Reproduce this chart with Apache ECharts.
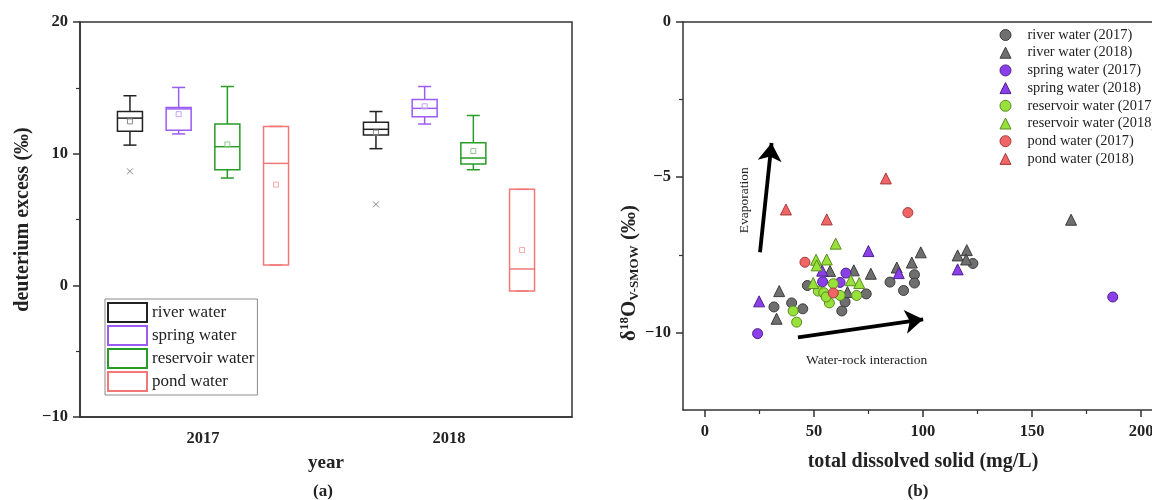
<!DOCTYPE html>
<html>
<head>
<meta charset="utf-8">
<script src="https://cdn.jsdelivr.net/npm/echarts@6/dist/echarts.min.js"></script>
<style>
  html, body { margin: 0; padding: 0; background: #fff; }
  #chart { width: 1152px; height: 500px; }
</style>
</head>
<body>
<div id="chart"></div>
<script>
// ---------- panel (a): deuterium excess box plots ----------
const years = ['2017', '2018'];
const waterTypes = ['river water', 'spring water', 'reservoir water', 'pond water'];
// [min, Q1, median, Q3, max] for 2017 and 2018
const riverBox = [[10.65, 11.7, 12.7, 13.2, 14.4], [10.38, 11.41, 11.85, 12.38, 13.2]];
const springBox = [[11.5, 11.77, 13.4, 13.5, 15.03], [12.25, 12.8, 13.44, 14.12, 15.1]];
const reservoirBox = [[8.15, 8.78, 10.53, 12.25, 15.1], [8.78, 9.21, 9.67, 10.83, 12.9]];
const pondBox = [[1.54, 1.54, 9.26, 12.07, 12.07], [-0.43, -0.43, 1.24, 7.29, 7.29]];
const riverMean = [12.45, 11.6];
const springMean = [13.0, 13.6];
const reservoirMean = [10.7, 10.2];
const pondMean = [7.65, 2.68];
const riverOutlier = [8.66, 6.15];
const springOutlier = [null, null];
const reservoirOutlier = [null, null];
const pondOutlier = [null, null];

// ---------- panel (b): δ18O versus TDS ----------
// [TDS (mg/L), δ18O (‰)]
const river2017 = [[47.0, -8.49], [74.0, -8.76], [64.3, -9.02], [62.8, -9.31], [31.7, -9.18],
  [39.8, -9.05], [44.9, -9.24], [84.9, -8.38], [91.1, -8.65], [96.1, -8.14], [96.1, -8.41],
  [122.9, -7.78]];
const river2018 = [[57.4, -8.02], [68.3, -8.0], [76.1, -8.11], [65.4, -8.7], [34.1, -8.67],
  [32.9, -9.56], [88.0, -7.91], [94.9, -7.75], [99.0, -7.42], [115.9, -7.52], [120.1, -7.35],
  [119.8, -7.65], [167.9, -6.37]];
const spring2017 = [[64.7, -8.09], [54.0, -8.37], [62.0, -8.39], [24.2, -10.04], [187.0, -8.86]];
const spring2018 = [[75.0, -7.38], [53.8, -8.01], [24.9, -9.0], [88.9, -8.09], [115.9, -7.97]];
const reservoir2017 = [[58.9, -8.43], [52.0, -8.67], [62.0, -8.81], [69.6, -8.81], [57.1, -9.05],
  [40.5, -9.31], [42.1, -9.67], [54.5, -8.72], [55.6, -8.86]];
const reservoir2018 = [[60.0, -7.14], [51.0, -7.66], [55.9, -7.65], [51.3, -7.84], [49.7, -8.41],
  [66.9, -8.32], [70.8, -8.41]];
const pond2017 = [[45.9, -7.74], [58.9, -8.73], [93.1, -6.14]];
const pond2018 = [[37.2, -6.04], [55.9, -6.36], [83.0, -5.04]];
const tdsTicks = [0, 50, 100, 150, 200];
const tdsMinorTicks = [25, 75, 125, 175];
const o18Ticks = [-10, -5, 0];
const o18MinorTicks = [-7.5, -2.5];
// annotation arrows (tail, tip), in data units
const evaporationArrow = [[25.3, -7.42], [30.6, -3.9]];
const waterRockArrow = [[42.7, -10.16], [100.1, -9.58]];
const evaporationLabelAt = [18.4, -5.74];
const waterRockLabelAt = [74.2, -10.9];

const SERIF = "'Liberation Serif', 'DejaVu Serif', serif";
const INK = '#222';
const minus = v => String(v).replace('-', '\u2212');

const boxColors = ['#222222', '#9b5cf4', '#279c27', '#f27878'];
const meanColors = ['#8a8a8a', '#c3a2f7', '#8fc88f', '#f5aaaa'];
const boxSets = [riverBox, springBox, reservoirBox, pondBox];
const meanSets = [riverMean, springMean, reservoirMean, pondMean];
const outlierSets = [riverOutlier, springOutlier, reservoirOutlier, pondOutlier];

function boxRenderer(order) {
  const color = boxColors[order];
  const mColor = meanColors[order];
  return function (params, api) {
    const cat = api.value(0);
    const band = api.size([1, 0])[0];
    const slot = (band * 0.8 - 2) / waterTypes.length;
    const cx = api.coord([cat, 0])[0] + (order - (waterTypes.length - 1) / 2) * slot;
    const py = i => api.coord([cat, api.value(i)])[1];
    const yMin = py(1), yQ1 = py(2), yMed = py(3), yQ3 = py(4), yMax = py(5);
    const bw = 25, cw = 13;
    const st = { stroke: color, lineWidth: 1.5, fill: 'none' };
    const seg = (x1, y1, x2, y2, s) => ({ type: 'line', shape: { x1, y1, x2, y2 }, style: s });
    const kids = [
      seg(cx, yQ3, cx, yMax, st),
      seg(cx, yQ1, cx, yMin, st),
      seg(cx - cw / 2, yMax, cx + cw / 2, yMax, st),
      seg(cx - cw / 2, yMin, cx + cw / 2, yMin, st),
      { type: 'rect', shape: { x: cx - bw / 2, y: yQ3, width: bw, height: yQ1 - yQ3 }, style: st },
      seg(cx - bw / 2, yMed, cx + bw / 2, yMed, st)
    ];
    const mean = api.value(6);
    if (!isNaN(mean)) {
      const ym = api.coord([cat, mean])[1];
      kids.push({ type: 'rect', shape: { x: cx - 2.5, y: ym - 2.5, width: 5, height: 5 },
        style: { stroke: mColor, lineWidth: 1, fill: 'none' } });
    }
    const out = api.value(7);
    if (!isNaN(out)) {
      const yo = api.coord([cat, out])[1];
      const xs = { stroke: '#8a8a8a', lineWidth: 1 };
      kids.push(seg(cx - 3, yo - 3, cx + 3, yo + 3, xs));
      kids.push(seg(cx - 3, yo + 3, cx + 3, yo - 3, xs));
    }
    return { type: 'group', children: kids };
  };
}

const boxSeries = waterTypes.map((name, k) => ({
  name,
  type: 'custom',
  xAxisIndex: 0,
  yAxisIndex: 0,
  renderItem: boxRenderer(k),
  itemStyle: { color: '#fff', borderColor: boxColors[k], borderWidth: 2 },
  encode: { x: 0, y: [1, 2, 3, 4, 5] },
  data: years.map((y, i) => [i, ...boxSets[k][i], meanSets[k][i],
    outlierSets[k][i] == null ? '-' : outlierSets[k][i]])
}));

const scatterDefs = [
  ['river water (2017)', river2017, 'circle', '#6f6f6f', '#3c3c3c'],
  ['river water (2018)', river2018, 'triangle', '#6f6f6f', '#3c3c3c'],
  ['spring water (2017)', spring2017, 'circle', '#8a3fe8', '#4f2090'],
  ['spring water (2018)', spring2018, 'triangle', '#8a3fe8', '#4f2090'],
  ['reservoir water (2017)', reservoir2017, 'circle', '#98e03a', '#5a8a22'],
  ['reservoir water (2018)', reservoir2018, 'triangle', '#98e03a', '#5a8a22'],
  ['pond water (2017)', pond2017, 'circle', '#f06666', '#a63a3a'],
  ['pond water (2018)', pond2018, 'triangle', '#f06666', '#a63a3a']
];

const scatterSeries = scatterDefs.map(([name, data, symbol, fill, edge]) => ({
  name,
  type: 'scatter',
  xAxisIndex: 1,
  yAxisIndex: 1,
  symbol,
  symbolSize: symbol === 'circle' ? 10 : 11,
  itemStyle: { color: fill, borderColor: edge, borderWidth: 1, opacity: 1 },
  emphasis: { disabled: true },
  data
}));

const annotationSeries = {
  name: 'annotations',
  type: 'scatter',
  xAxisIndex: 1,
  yAxisIndex: 1,
  data: [],
  silent: true,
  markLine: {
    silent: true,
    symbol: ['none', 'arrow'],
    symbolSize: 18,
    label: { show: false },
    lineStyle: { color: '#000', width: 3.8, type: 'solid' },
    emphasis: { disabled: true },
    data: [
      [{ coord: evaporationArrow[0] }, { coord: evaporationArrow[1] }],
      [{ coord: waterRockArrow[0] }, { coord: waterRockArrow[1] }]
    ]
  },
  markPoint: {
    silent: true,
    symbol: 'rect',
    symbolSize: 1,
    itemStyle: { color: 'rgba(0,0,0,0)' },
    label: { show: true, position: 'inside', fontFamily: SERIF, fontSize: 13.5, color: INK,
      formatter: p => p.name },
    data: [
      { name: 'Evaporation', coord: evaporationLabelAt, label: { rotate: 90 } },
      { name: 'Water-rock interaction', coord: waterRockLabelAt }
    ]
  }
};

const tickLabel = { fontFamily: SERIF, fontSize: 16.5, fontWeight: 'bold', color: INK };
const lineDark = { color: '#333', width: 1.5 };
const nameStyle = size => ({ fontFamily: SERIF, fontSize: size, fontWeight: 'bold', color: INK });

const option = {
  animation: false,
  backgroundColor: '#fff',
  textStyle: { fontFamily: SERIF },
  grid: [
    { left: 80, top: 22, right: 580, bottom: 83, outerBoundsMode: 'none',
      show: true, borderColor: '#333', borderWidth: 1.5 },
    { left: 683, top: 22, right: 0, bottom: 90, outerBoundsMode: 'none', show: false }
  ],
  xAxis: [
    {
      gridIndex: 0, type: 'category', data: years, position: 'bottom',
      axisLine: { onZero: false, lineStyle: lineDark },
      axisTick: { alignWithLabel: true, length: 7, lineStyle: lineDark },
      axisLabel: Object.assign({ margin: 13 }, tickLabel),
      name: 'year', nameLocation: 'middle', nameGap: 37,
      nameTextStyle: nameStyle(19),
      splitLine: { show: false }
    },
    {
      gridIndex: 1, type: 'value', min: -10, max: 205, position: 'bottom',
      axisLine: { onZero: false, lineStyle: lineDark },
      axisTick: { customValues: tdsTicks, length: 7, lineStyle: lineDark },
      axisLabel: Object.assign({ customValues: tdsTicks, margin: 13, formatter: minus }, tickLabel),
      name: 'total dissolved solid (mg/L)', nameLocation: 'middle', nameGap: 42,
      nameTextStyle: Object.assign(nameStyle(20), { padding: [0, 0, 0, 11] }),
      splitLine: { show: false }
    },
    {
      gridIndex: 1, type: 'value', min: -10, max: 205, position: 'bottom',
      axisLine: { show: false, onZero: false },
      axisTick: { customValues: tdsMinorTicks, length: 4, lineStyle: { color: '#333', width: 1.2 } },
      axisLabel: { show: false },
      splitLine: { show: false }
    },
    {
      // top frame line of panel (b)
      gridIndex: 1, type: 'value', min: -10, max: 205, position: 'top',
      axisLine: { show: true, onZero: false, lineStyle: lineDark },
      axisTick: { show: false },
      axisLabel: { show: false },
      splitLine: { show: false }
    }
  ],
  yAxis: [
    {
      gridIndex: 0, type: 'value', min: -10, max: 20, interval: 10, position: 'left',
      axisLine: { show: true, onZero: false, lineStyle: lineDark },
      axisTick: { show: true, length: 7, lineStyle: lineDark },
      minorTick: { show: true, splitNumber: 2, length: 4, lineStyle: { color: '#333', width: 1.2 } },
      axisLabel: Object.assign({ margin: 12, formatter: minus }, tickLabel),
      name: 'deuterium excess (\u2030)', nameLocation: 'middle', nameGap: 47,
      nameTextStyle: nameStyle(20),
      splitLine: { show: false }
    },
    {
      gridIndex: 1, type: 'value', min: -12.5, max: 0, position: 'left',
      axisLine: { show: true, onZero: false, lineStyle: lineDark },
      axisTick: { show: true, customValues: o18Ticks, length: 7, lineStyle: lineDark },
      axisLabel: Object.assign({ customValues: o18Ticks, margin: 12, formatter: minus }, tickLabel),
      name: '\u03b4{sup|18}O{sub|V-SMOW} (\u2030)', nameLocation: 'middle', nameGap: 41,
      nameTextStyle: Object.assign(nameStyle(21), {
        padding: [0, 114, 0, 0],
        rich: {
          sup: { fontFamily: SERIF, fontSize: 13, fontWeight: 'bold', color: INK, padding: [0, 0, 10, 0] },
          sub: { fontFamily: SERIF, fontSize: 13, fontWeight: 'bold', color: INK, padding: [10, 0, 0, 0] }
        }
      }),
      splitLine: { show: false }
    },
    {
      gridIndex: 1, type: 'value', min: -12.5, max: 0, position: 'left',
      axisLine: { show: false, onZero: false },
      axisTick: { show: true, customValues: o18MinorTicks, length: 4, lineStyle: { color: '#333', width: 1.2 } },
      axisLabel: { show: false },
      splitLine: { show: false }
    }
  ],
  legend: [
    {
      orient: 'vertical', left: 105, top: 299,
      padding: [3, 3, 3, 2], itemGap: 2, itemWidth: 39, itemHeight: 19,
      backgroundColor: '#fff', borderColor: '#8a8a8a', borderWidth: 1,
      selectedMode: false,
      textStyle: { fontFamily: SERIF, fontSize: 17, color: INK },
      data: waterTypes.map((n, i) => ({
        name: n, icon: 'rect',
        itemStyle: { color: '#fff', borderColor: boxColors[i], borderWidth: 2 }
      }))
    },
    {
      orient: 'vertical', left: 999.5, top: 28,
      padding: 0, itemGap: 3.7, itemWidth: 11, itemHeight: 11,
      selectedMode: false,
      itemStyle: { borderWidth: 1 },
      textStyle: { fontFamily: SERIF, fontSize: 14.4, lineHeight: 14, color: INK, padding: [0, 0, 0, 11.5] },
      data: scatterDefs.map(d => d[0])
    }
  ],
  graphic: [
    { type: 'text', x: 323, y: 492, style: { text: '(a)', font: "bold 17px 'Liberation Serif', serif",
      fill: INK, align: 'center', verticalAlign: 'middle' } },
    { type: 'text', x: 918, y: 492, style: { text: '(b)', font: "bold 17px 'Liberation Serif', serif",
      fill: INK, align: 'center', verticalAlign: 'middle' } }
  ],
  series: [...boxSeries, ...scatterSeries, annotationSeries]
};

const chart = echarts.init(document.getElementById('chart'), null, { renderer: 'canvas' });
chart.setOption(option);
</script>
</body>
</html>
